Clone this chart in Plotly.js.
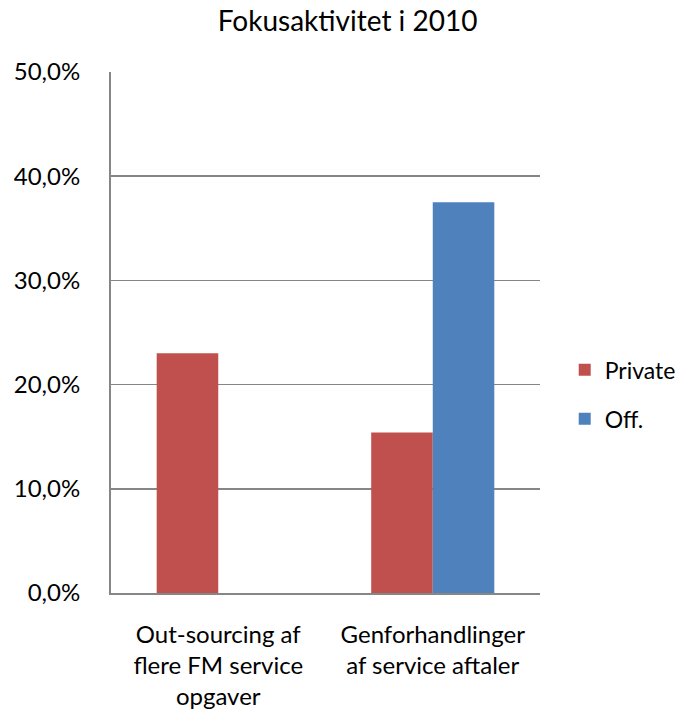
<!DOCTYPE html>
<html>
<head>
<meta charset="utf-8">
<script src="https://cdn.plot.ly/plotly-3.0.1.min.js"></script>
<style>html,body{margin:0;padding:0;background:#fff;}#chart{width:687px;height:713px;}</style>
</head>
<body>
<div id="chart"></div>
<script>
const categories = ["Out-sourcing af<br>flere FM service<br>opgaver", "Genforhandlinger<br>af service aftaler"];
const seriesNames = ["Private", "Off."];
const privateValues = [23.0, 15.4];
const offValues = [0, 37.5];
const tickValues = [0, 10, 20, 30, 40, 50];
const tickLabels = ["0,0%", "10,0%", "20,0%", "30,0%", "40,0%", "50,0%"];
const colors = ["#C0504D", "#4F81BD"];

const font = "Lato, 'Open Sans', sans-serif";
const data = [
  {type: "bar", name: seriesNames[0], x: categories, y: privateValues, marker: {color: colors[0]}, legendgroup: "a", hoverinfo: "none"},
  {type: "bar", name: seriesNames[1], x: categories, y: offValues, marker: {color: colors[1]}, legendgroup: "b", hoverinfo: "none"}
];
const layout = {
  width: 687, height: 713,
  margin: {l: 111, r: 147, t: 72, b: 120},
  paper_bgcolor: "#fff", plot_bgcolor: "#fff",
  font: {family: font, size: 24, color: "#000"},
  title: {text: "Fokusaktivitet i 2010", x: 0.506, xref: "container", xanchor: "center", y: 0.97, yanchor: "middle", yref: "container", font: {family: font, size: 28, color: "#000"}},
  barmode: "group",
  bargap: 0.426,
  bargroupgap: 0,
  showlegend: true,
  legend: {x: 0.822, xref: "container", xanchor: "left", y: 0.447, yref: "container", yanchor: "middle", traceorder: "grouped", tracegroupgap: 16, font: {family: font, size: 23}, itemwidth: 30},
  xaxis: {type: "category", showline: true, linecolor: "#868686", linewidth: 2, showgrid: false, ticks: "", ticklabelstandoff: 19, tickfont: {family: font, size: 24}},
  yaxis: {range: [0, 50], tickvals: tickValues, ticktext: tickLabels, showline: true, linecolor: "#868686", linewidth: 2, showgrid: true, gridcolor: "#868686", gridwidth: 1.5, zeroline: false, ticks: "", ticklabelstandoff: 24, tickfont: {family: font, size: 24}}
};
Plotly.newPlot("chart", data, layout, {displayModeBar: false, staticPlot: true});
</script>
</body>
</html>
